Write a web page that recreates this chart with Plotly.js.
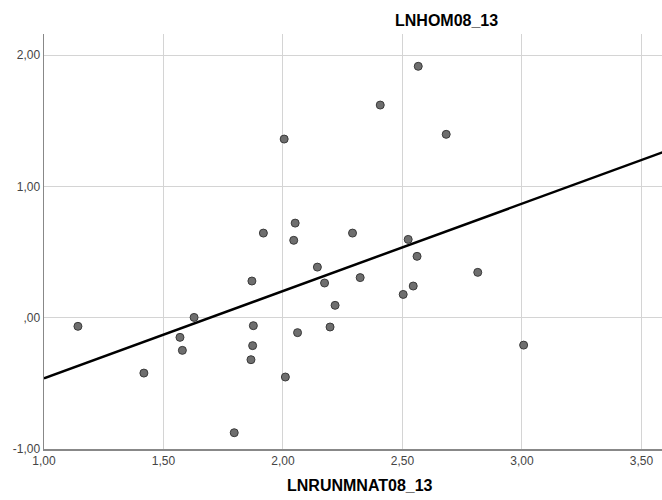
<!DOCTYPE html>
<html>
<head>
<meta charset="utf-8">
<script src="https://cdn.plot.ly/plotly-3.0.1.min.js"></script>
<style>html,body{margin:0;padding:0;background:#fff;}#chart{width:662px;height:500px;}</style>
</head>
<body>
<div id="chart"></div>
<script>
// Scatter data: LNRUNMNAT08_13 (x) vs LNHOM08_13 (y)
const xVals = [2.005, 2.051, 1.918, 2.045, 2.566, 2.407, 2.683, 2.291, 2.524,
               1.142, 1.418, 1.569, 1.579, 1.628, 1.870, 1.876, 1.873, 1.866, 1.796,
               2.010, 2.061, 2.144, 2.174, 2.197, 2.561, 2.323, 2.815, 2.545, 2.503,
               2.218, 3.007];
const yVals = [1.360, 0.720, 0.644, 0.589, 1.914, 1.619, 1.396, 0.644, 0.596,
               -0.066, -0.422, -0.150, -0.249, 0.002, 0.279, -0.061, -0.213, -0.320, -0.876,
               -0.452, -0.114, 0.385, 0.264, -0.071, 0.467, 0.305, 0.345, 0.241, 0.177,
               0.094, -0.209];
// Fit line endpoints
const fitX = [1.0, 3.6];
const fitY = [-0.462, 1.267];
// Tick labels
const xTickVals = [1.0, 1.5, 2.0, 2.5, 3.0, 3.5];
const xTickText = ["1,00", "1,50", "2,00", "2,50", "3,00", "3,50"];
const yTickVals = [-1, 0, 1, 2];
const yTickText = ["-1,00", ",00", "1,00", "2,00"];
const yTitle = "LNHOM08_13";
const xTitle = "LNRUNMNAT08_13";

const traces = [
  {
    x: fitX, y: fitY, type: 'scatter', mode: 'lines',
    line: {color: '#000000', width: 2.5}, hoverinfo: 'skip', showlegend: false
  },
  {
    x: xVals, y: yVals, type: 'scatter', mode: 'markers',
    marker: {size: 8, color: '#6e6e6e', line: {color: '#3a3a3a', width: 1}},
    showlegend: false
  }
];

const layout = {
  width: 662, height: 500,
  margin: {l: 44, r: 0, t: 34, b: 51, pad: 0},
  paper_bgcolor: '#ffffff', plot_bgcolor: '#ffffff',
  font: {family: 'Liberation Sans, Arial, sans-serif', size: 12, color: '#444444'},
  xaxis: {
    range: [1.0, 3.586], tickvals: xTickVals, ticktext: xTickText,
    showgrid: true, gridcolor: '#d4d4d4', gridwidth: 1,
    zeroline: false, showline: true, linecolor: '#888888', linewidth: 1.5,
    ticks: '', ticklen: 0, tickfont: {size: 12, color: '#444444'}
  },
  yaxis: {
    range: [-1.0, 2.16], tickvals: yTickVals, ticktext: yTickText,
    showgrid: true, gridcolor: '#d4d4d4', gridwidth: 1,
    zeroline: false, showline: true, linecolor: '#888888', linewidth: 1.5,
    ticks: '', ticklen: 0, tickfont: {size: 12, color: '#444444'}
  },
  annotations: [
    {text: '<b>' + yTitle + '</b>', xref: 'paper', yref: 'paper', x: (446 - 44) / 618, y: 1 + 13 / 415,
     xanchor: 'center', yanchor: 'middle', showarrow: false,
     font: {family: 'Liberation Sans, Arial, sans-serif', size: 16, color: '#000000'}},
    {text: '<b>' + xTitle + '</b>', xref: 'paper', yref: 'paper', x: (360 - 44) / 618, y: -36 / 415,
     xanchor: 'center', yanchor: 'middle', showarrow: false,
     font: {family: 'Liberation Sans, Arial, sans-serif', size: 16, color: '#000000'}}
  ]
};

Plotly.newPlot('chart', traces, layout, {displayModeBar: false, staticPlot: true});
</script>
</body>
</html>
